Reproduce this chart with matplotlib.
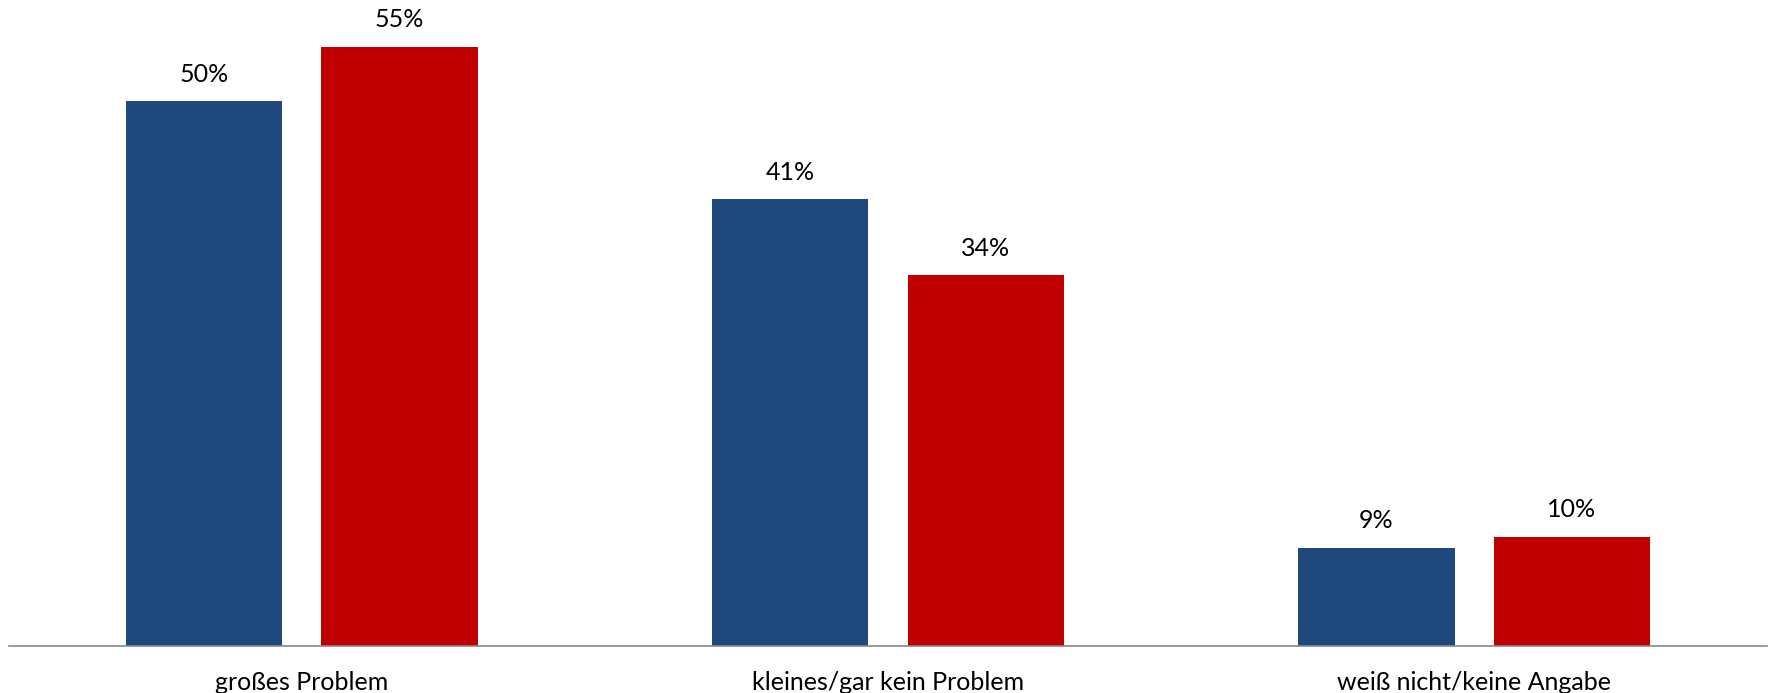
import numpy as np
import matplotlib.pyplot as plt

categories = ["großes Problem", "kleines/gar kein Problem", "weiß nicht/keine Angabe"]
series_a = [50, 41, 9]
series_b = [55, 34, 10]
colors = ["#1F497D", "#C00000"]

plt.rcParams["font.family"] = ["Lato", "DejaVu Sans"]

fig = plt.figure(figsize=(17.69, 6.93), dpi=100)
ax = fig.add_axes([0.005, 0.0685, 0.994, 0.9315])

x = np.arange(len(categories))
width = 0.2665
off = 0.1666

bars_a = ax.bar(x - off, series_a, width, color=colors[0])
bars_b = ax.bar(x + off, series_b, width, color=colors[1])

for bars, vals in [(bars_a, series_a), (bars_b, series_b)]:
    for b, v in zip(bars, vals):
        ax.annotate(f"{v}%", (b.get_x() + b.get_width() / 2, b.get_height()),
                    xytext=(0, 19.5), textcoords="offset points",
                    ha="center", va="center", fontsize=18, color="#000000")

ax.set_xlim(-0.5, 2.5)
ax.set_ylim(0, 59.3)
ax.set_xticks(x)
ax.set_xticklabels(categories, fontsize=18)
ax.tick_params(axis="x", length=0, pad=18)
ax.set_yticks([])
for s in ["top", "right", "left"]:
    ax.spines[s].set_visible(False)
ax.spines["bottom"].set_color("#898989")
ax.spines["bottom"].set_linewidth(1.2)

fig.savefig("out.png", dpi=100)
